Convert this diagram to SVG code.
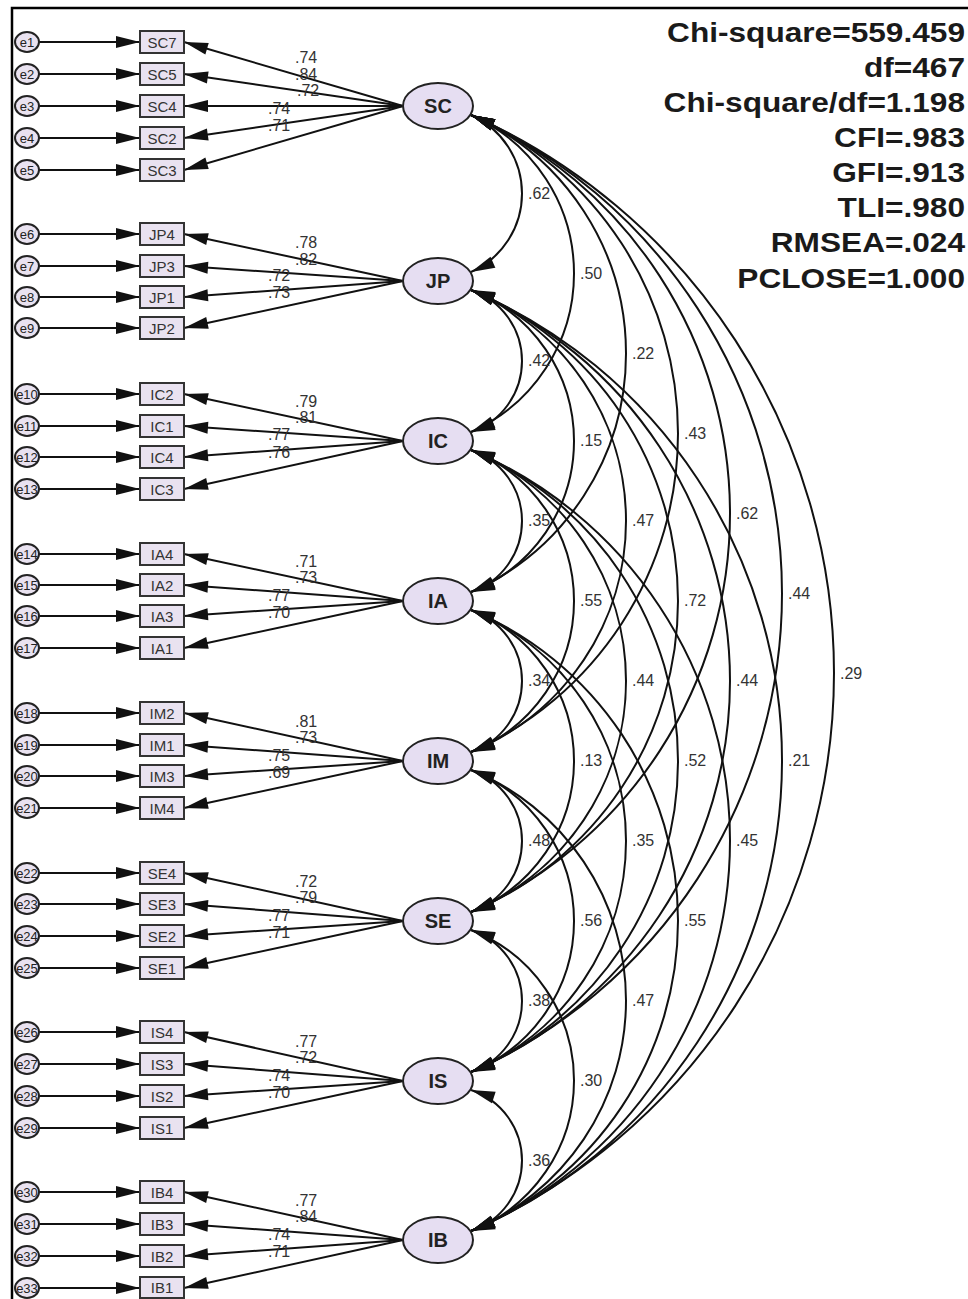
<svg xmlns="http://www.w3.org/2000/svg" width="968" height="1299" viewBox="0 0 968 1299">
<style>
.ln{stroke:#111;stroke-width:2;fill:none}
.ld{stroke:#111;stroke-width:2;fill:none;marker-end:url(#ah)}
.cv{stroke:#111;stroke-width:2;fill:none;marker-start:url(#ah2);marker-end:url(#ah2)}
.box{fill:#e9e2f0;stroke:#333;stroke-width:2}
.err{fill:#e9e2f0;stroke:#222;stroke-width:2}
.lat{fill:#e6def2;stroke:#222;stroke-width:2}
.bt{font-family:"Liberation Sans",Arial,sans-serif;font-size:15px;fill:#333;text-anchor:middle}
.et{font-family:"Liberation Sans",Arial,sans-serif;font-size:13px;fill:#222;text-anchor:middle}
.lt{font-family:"Liberation Sans",Arial,sans-serif;font-size:20px;font-weight:bold;fill:#222;text-anchor:middle}
.nt{font-family:"Liberation Sans",Arial,sans-serif;font-size:16px;fill:#333}
.st{font-family:"Liberation Sans",Arial,sans-serif;font-size:28px;font-weight:bold;fill:#1a1a1a;text-anchor:end}
</style>
<defs>
<marker id="ah" markerUnits="userSpaceOnUse" viewBox="0 0 24 12" markerWidth="24" markerHeight="12" refX="24" refY="6" orient="auto" overflow="visible"><path d="M0,0 L24,6 L0,12 z" fill="#111"/></marker>
<marker id="ah2" markerUnits="userSpaceOnUse" viewBox="0 0 24 12" markerWidth="24" markerHeight="12" refX="24" refY="6" orient="auto-start-reverse" overflow="visible"><path d="M0,0 L24,6 L0,12 z" fill="#111"/></marker>
</defs>
<rect width="968" height="1299" fill="#fff"/>
<path d="M12,1299 V8 H968" fill="none" stroke="#000" stroke-width="2.5"/>

<g id="connectors">
<path class="ld" d="M39,42 H140"/><path class="ld" d="M39,74 H140"/><path class="ld" d="M39,106 H140"/><path class="ld" d="M39,138 H140"/><path class="ld" d="M39,170 H140"/>
<path class="ld" d="M39,234 H140"/><path class="ld" d="M39,266 H140"/><path class="ld" d="M39,297 H140"/><path class="ld" d="M39,328 H140"/>
<path class="ld" d="M39,394 H140"/><path class="ld" d="M39,426 H140"/><path class="ld" d="M39,457 H140"/><path class="ld" d="M39,489 H140"/>
<path class="ld" d="M39,554 H140"/><path class="ld" d="M39,585 H140"/><path class="ld" d="M39,616 H140"/><path class="ld" d="M39,648 H140"/>
<path class="ld" d="M39,713 H140"/><path class="ld" d="M39,745 H140"/><path class="ld" d="M39,776 H140"/><path class="ld" d="M39,808 H140"/>
<path class="ld" d="M39,873 H140"/><path class="ld" d="M39,904 H140"/><path class="ld" d="M39,936 H140"/><path class="ld" d="M39,968 H140"/>
<path class="ld" d="M39,1032 H140"/><path class="ld" d="M39,1064 H140"/><path class="ld" d="M39,1096 H140"/><path class="ld" d="M39,1128 H140"/>
<path class="ld" d="M39,1192 H140"/><path class="ld" d="M39,1224 H140"/><path class="ld" d="M39,1256 H140"/><path class="ld" d="M39,1288 H140"/>
<path class="ld" d="M403,106 L184,42"/><path class="ld" d="M403,106 L184,74"/><path class="ld" d="M403,106 L184,106"/><path class="ld" d="M403,106 L184,138"/><path class="ld" d="M403,106 L184,170"/>
<path class="ld" d="M403,281 L184,234"/><path class="ld" d="M403,281 L184,266"/><path class="ld" d="M403,281 L184,297"/><path class="ld" d="M403,281 L184,328"/>
<path class="ld" d="M403,441 L184,394"/><path class="ld" d="M403,441 L184,426"/><path class="ld" d="M403,441 L184,457"/><path class="ld" d="M403,441 L184,489"/>
<path class="ld" d="M403,601 L184,554"/><path class="ld" d="M403,601 L184,585"/><path class="ld" d="M403,601 L184,616"/><path class="ld" d="M403,601 L184,648"/>
<path class="ld" d="M403,761 L184,713"/><path class="ld" d="M403,761 L184,745"/><path class="ld" d="M403,761 L184,776"/><path class="ld" d="M403,761 L184,808"/>
<path class="ld" d="M403,921 L184,873"/><path class="ld" d="M403,921 L184,904"/><path class="ld" d="M403,921 L184,936"/><path class="ld" d="M403,921 L184,968"/>
<path class="ld" d="M403,1081 L184,1032"/><path class="ld" d="M403,1081 L184,1064"/><path class="ld" d="M403,1081 L184,1096"/><path class="ld" d="M403,1081 L184,1128"/>
<path class="ld" d="M403,1240 L184,1192"/><path class="ld" d="M403,1240 L184,1224"/><path class="ld" d="M403,1240 L184,1256"/><path class="ld" d="M403,1240 L184,1288"/>
<path class="cv" d="M471,115 A85.91,85.91 0 0 1 471,272"/>
<path class="cv" d="M471,290 A74.92,74.92 0 0 1 471,432"/>
<path class="cv" d="M471,450 A74.92,74.92 0 0 1 471,592"/>
<path class="cv" d="M471,610 A74.92,74.92 0 0 1 471,752"/>
<path class="cv" d="M471,770 A74.92,74.92 0 0 1 471,912"/>
<path class="cv" d="M471,930 A74.92,74.92 0 0 1 471,1072"/>
<path class="cv" d="M471,1090 A74.23,74.23 0 0 1 471,1231"/>
<path class="cv" d="M471,115 A173.45,173.45 0 0 1 471,432"/>
<path class="cv" d="M471,290 A162.18,162.18 0 0 1 471,592"/>
<path class="cv" d="M471,450 A162.18,162.18 0 0 1 471,752"/>
<path class="cv" d="M471,610 A162.18,162.18 0 0 1 471,912"/>
<path class="cv" d="M471,770 A162.18,162.18 0 0 1 471,1072"/>
<path class="cv" d="M471,930 A161.45,161.45 0 0 1 471,1231"/>
<path class="cv" d="M471,115 A260.99,260.99 0 0 1 471,592"/>
<path class="cv" d="M471,290 A249.63,249.63 0 0 1 471,752"/>
<path class="cv" d="M471,450 A249.63,249.63 0 0 1 471,912"/>
<path class="cv" d="M471,610 A249.63,249.63 0 0 1 471,1072"/>
<path class="cv" d="M471,770 A248.89,248.89 0 0 1 471,1231"/>
<path class="cv" d="M471,115 A348.53,348.53 0 0 1 471,752"/>
<path class="cv" d="M471,290 A337.13,337.13 0 0 1 471,912"/>
<path class="cv" d="M471,450 A337.13,337.13 0 0 1 471,1072"/>
<path class="cv" d="M471,610 A336.37,336.37 0 0 1 471,1231"/>
<path class="cv" d="M471,115 A436.07,436.07 0 0 1 471,912"/>
<path class="cv" d="M471,290 A424.64,424.64 0 0 1 471,1072"/>
<path class="cv" d="M471,450 A423.88,423.88 0 0 1 471,1231"/>
<path class="cv" d="M471,115 A523.61,523.61 0 0 1 471,1072"/>
<path class="cv" d="M471,290 A511.40,511.40 0 0 1 471,1231"/>
<path class="cv" d="M471,115 A610.38,610.38 0 0 1 471,1231"/>
</g>

<g id="loading-labels" class="nt">
<text x="295" y="63">.74</text><text x="295" y="80">.84</text><text x="297" y="96">.72</text><text x="268" y="114">.74</text><text x="268" y="131">.71</text>
<text x="295" y="248">.78</text><text x="295" y="265">.82</text><text x="268" y="281">.72</text><text x="268" y="298">.73</text>
<text x="295" y="407">.79</text><text x="295" y="423">.81</text><text x="268" y="440">.77</text><text x="268" y="458">.76</text>
<text x="295" y="567">.71</text><text x="295" y="583">.73</text><text x="268" y="601">.77</text><text x="268" y="618">.70</text>
<text x="295" y="727">.81</text><text x="295" y="743">.73</text><text x="268" y="761">.75</text><text x="268" y="778">.69</text>
<text x="295" y="887">.72</text><text x="295" y="903">.79</text><text x="268" y="921">.77</text><text x="268" y="938">.71</text>
<text x="295" y="1047">.77</text><text x="295" y="1063">.72</text><text x="268" y="1081">.74</text><text x="268" y="1098">.70</text>
<text x="295" y="1206">.77</text><text x="295" y="1222">.84</text><text x="268" y="1240">.74</text><text x="268" y="1257">.71</text>
</g>

<g id="covariance-labels" class="nt">
<text x="528" y="199">.62</text><text x="528" y="366">.42</text><text x="528" y="526">.35</text><text x="528" y="686">.34</text><text x="528" y="846">.48</text><text x="528" y="1006">.38</text><text x="528" y="1166">.36</text>
<text x="580" y="279">.50</text><text x="580" y="446">.15</text><text x="580" y="606">.55</text><text x="580" y="766">.13</text><text x="580" y="926">.56</text><text x="580" y="1086">.30</text>
<text x="632" y="359">.22</text><text x="632" y="526">.47</text><text x="632" y="686">.44</text><text x="632" y="846">.35</text><text x="632" y="1006">.47</text>
<text x="684" y="439">.43</text><text x="684" y="606">.72</text><text x="684" y="766">.52</text><text x="684" y="926">.55</text>
<text x="736" y="519">.62</text><text x="736" y="686">.44</text><text x="736" y="846">.45</text>
<text x="788" y="599">.44</text><text x="788" y="766">.21</text>
<text x="840" y="679">.29</text>
</g>

<g id="SC"><ellipse class="lat" cx="438" cy="106" rx="35" ry="23"/><text class="lt" x="438" y="113">SC</text></g>
<g id="JP"><ellipse class="lat" cx="438" cy="281" rx="35" ry="23"/><text class="lt" x="438" y="288">JP</text></g>
<g id="IC"><ellipse class="lat" cx="438" cy="441" rx="35" ry="23"/><text class="lt" x="438" y="448">IC</text></g>
<g id="IA"><ellipse class="lat" cx="438" cy="601" rx="35" ry="23"/><text class="lt" x="438" y="608">IA</text></g>
<g id="IM"><ellipse class="lat" cx="438" cy="761" rx="35" ry="23"/><text class="lt" x="438" y="768">IM</text></g>
<g id="SE"><ellipse class="lat" cx="438" cy="921" rx="35" ry="23"/><text class="lt" x="438" y="928">SE</text></g>
<g id="IS"><ellipse class="lat" cx="438" cy="1081" rx="35" ry="23"/><text class="lt" x="438" y="1088">IS</text></g>
<g id="IB"><ellipse class="lat" cx="438" cy="1240" rx="35" ry="23"/><text class="lt" x="438" y="1247">IB</text></g>

<g id="SC7"><rect class="box" x="140" y="31" width="44" height="22"/><text class="bt" x="162" y="47.5">SC7</text></g>
<g id="SC5"><rect class="box" x="140" y="63" width="44" height="22"/><text class="bt" x="162" y="79.5">SC5</text></g>
<g id="SC4"><rect class="box" x="140" y="95" width="44" height="22"/><text class="bt" x="162" y="111.5">SC4</text></g>
<g id="SC2"><rect class="box" x="140" y="127" width="44" height="22"/><text class="bt" x="162" y="143.5">SC2</text></g>
<g id="SC3"><rect class="box" x="140" y="159" width="44" height="22"/><text class="bt" x="162" y="175.5">SC3</text></g>
<g id="JP4"><rect class="box" x="140" y="223" width="44" height="22"/><text class="bt" x="162" y="239.5">JP4</text></g>
<g id="JP3"><rect class="box" x="140" y="255" width="44" height="22"/><text class="bt" x="162" y="271.5">JP3</text></g>
<g id="JP1"><rect class="box" x="140" y="286" width="44" height="22"/><text class="bt" x="162" y="302.5">JP1</text></g>
<g id="JP2"><rect class="box" x="140" y="317" width="44" height="22"/><text class="bt" x="162" y="333.5">JP2</text></g>
<g id="IC2"><rect class="box" x="140" y="383" width="44" height="22"/><text class="bt" x="162" y="399.5">IC2</text></g>
<g id="IC1"><rect class="box" x="140" y="415" width="44" height="22"/><text class="bt" x="162" y="431.5">IC1</text></g>
<g id="IC4"><rect class="box" x="140" y="446" width="44" height="22"/><text class="bt" x="162" y="462.5">IC4</text></g>
<g id="IC3"><rect class="box" x="140" y="478" width="44" height="22"/><text class="bt" x="162" y="494.5">IC3</text></g>
<g id="IA4"><rect class="box" x="140" y="543" width="44" height="22"/><text class="bt" x="162" y="559.5">IA4</text></g>
<g id="IA2"><rect class="box" x="140" y="574" width="44" height="22"/><text class="bt" x="162" y="590.5">IA2</text></g>
<g id="IA3"><rect class="box" x="140" y="605" width="44" height="22"/><text class="bt" x="162" y="621.5">IA3</text></g>
<g id="IA1"><rect class="box" x="140" y="637" width="44" height="22"/><text class="bt" x="162" y="653.5">IA1</text></g>
<g id="IM2"><rect class="box" x="140" y="702" width="44" height="22"/><text class="bt" x="162" y="718.5">IM2</text></g>
<g id="IM1"><rect class="box" x="140" y="734" width="44" height="22"/><text class="bt" x="162" y="750.5">IM1</text></g>
<g id="IM3"><rect class="box" x="140" y="765" width="44" height="22"/><text class="bt" x="162" y="781.5">IM3</text></g>
<g id="IM4"><rect class="box" x="140" y="797" width="44" height="22"/><text class="bt" x="162" y="813.5">IM4</text></g>
<g id="SE4"><rect class="box" x="140" y="862" width="44" height="22"/><text class="bt" x="162" y="878.5">SE4</text></g>
<g id="SE3"><rect class="box" x="140" y="893" width="44" height="22"/><text class="bt" x="162" y="909.5">SE3</text></g>
<g id="SE2"><rect class="box" x="140" y="925" width="44" height="22"/><text class="bt" x="162" y="941.5">SE2</text></g>
<g id="SE1"><rect class="box" x="140" y="957" width="44" height="22"/><text class="bt" x="162" y="973.5">SE1</text></g>
<g id="IS4"><rect class="box" x="140" y="1021" width="44" height="22"/><text class="bt" x="162" y="1037.5">IS4</text></g>
<g id="IS3"><rect class="box" x="140" y="1053" width="44" height="22"/><text class="bt" x="162" y="1069.5">IS3</text></g>
<g id="IS2"><rect class="box" x="140" y="1085" width="44" height="22"/><text class="bt" x="162" y="1101.5">IS2</text></g>
<g id="IS1"><rect class="box" x="140" y="1117" width="44" height="22"/><text class="bt" x="162" y="1133.5">IS1</text></g>
<g id="IB4"><rect class="box" x="140" y="1181" width="44" height="22"/><text class="bt" x="162" y="1197.5">IB4</text></g>
<g id="IB3"><rect class="box" x="140" y="1213" width="44" height="22"/><text class="bt" x="162" y="1229.5">IB3</text></g>
<g id="IB2"><rect class="box" x="140" y="1245" width="44" height="22"/><text class="bt" x="162" y="1261.5">IB2</text></g>
<g id="IB1"><rect class="box" x="140" y="1277" width="44" height="21"/><text class="bt" x="162" y="1293">IB1</text></g>

<g id="e1"><ellipse class="err" cx="27" cy="42" rx="12" ry="10"/><text class="et" x="27" y="46.5">e1</text></g>
<g id="e2"><ellipse class="err" cx="27" cy="74" rx="12" ry="10"/><text class="et" x="27" y="78.5">e2</text></g>
<g id="e3"><ellipse class="err" cx="27" cy="106" rx="12" ry="10"/><text class="et" x="27" y="110.5">e3</text></g>
<g id="e4"><ellipse class="err" cx="27" cy="138" rx="12" ry="10"/><text class="et" x="27" y="142.5">e4</text></g>
<g id="e5"><ellipse class="err" cx="27" cy="170" rx="12" ry="10"/><text class="et" x="27" y="174.5">e5</text></g>
<g id="e6"><ellipse class="err" cx="27" cy="234" rx="12" ry="10"/><text class="et" x="27" y="238.5">e6</text></g>
<g id="e7"><ellipse class="err" cx="27" cy="266" rx="12" ry="10"/><text class="et" x="27" y="270.5">e7</text></g>
<g id="e8"><ellipse class="err" cx="27" cy="297" rx="12" ry="10"/><text class="et" x="27" y="301.5">e8</text></g>
<g id="e9"><ellipse class="err" cx="27" cy="328" rx="12" ry="10"/><text class="et" x="27" y="332.5">e9</text></g>
<g id="e10"><ellipse class="err" cx="27" cy="394" rx="12" ry="10"/><text class="et" x="27" y="398.5">e10</text></g>
<g id="e11"><ellipse class="err" cx="27" cy="426" rx="12" ry="10"/><text class="et" x="27" y="430.5">e11</text></g>
<g id="e12"><ellipse class="err" cx="27" cy="457" rx="12" ry="10"/><text class="et" x="27" y="461.5">e12</text></g>
<g id="e13"><ellipse class="err" cx="27" cy="489" rx="12" ry="10"/><text class="et" x="27" y="493.5">e13</text></g>
<g id="e14"><ellipse class="err" cx="27" cy="554" rx="12" ry="10"/><text class="et" x="27" y="558.5">e14</text></g>
<g id="e15"><ellipse class="err" cx="27" cy="585" rx="12" ry="10"/><text class="et" x="27" y="589.5">e15</text></g>
<g id="e16"><ellipse class="err" cx="27" cy="616" rx="12" ry="10"/><text class="et" x="27" y="620.5">e16</text></g>
<g id="e17"><ellipse class="err" cx="27" cy="648" rx="12" ry="10"/><text class="et" x="27" y="652.5">e17</text></g>
<g id="e18"><ellipse class="err" cx="27" cy="713" rx="12" ry="10"/><text class="et" x="27" y="717.5">e18</text></g>
<g id="e19"><ellipse class="err" cx="27" cy="745" rx="12" ry="10"/><text class="et" x="27" y="749.5">e19</text></g>
<g id="e20"><ellipse class="err" cx="27" cy="776" rx="12" ry="10"/><text class="et" x="27" y="780.5">e20</text></g>
<g id="e21"><ellipse class="err" cx="27" cy="808" rx="12" ry="10"/><text class="et" x="27" y="812.5">e21</text></g>
<g id="e22"><ellipse class="err" cx="27" cy="873" rx="12" ry="10"/><text class="et" x="27" y="877.5">e22</text></g>
<g id="e23"><ellipse class="err" cx="27" cy="904" rx="12" ry="10"/><text class="et" x="27" y="908.5">e23</text></g>
<g id="e24"><ellipse class="err" cx="27" cy="936" rx="12" ry="10"/><text class="et" x="27" y="940.5">e24</text></g>
<g id="e25"><ellipse class="err" cx="27" cy="968" rx="12" ry="10"/><text class="et" x="27" y="972.5">e25</text></g>
<g id="e26"><ellipse class="err" cx="27" cy="1032" rx="12" ry="10"/><text class="et" x="27" y="1036.5">e26</text></g>
<g id="e27"><ellipse class="err" cx="27" cy="1064" rx="12" ry="10"/><text class="et" x="27" y="1068.5">e27</text></g>
<g id="e28"><ellipse class="err" cx="27" cy="1096" rx="12" ry="10"/><text class="et" x="27" y="1100.5">e28</text></g>
<g id="e29"><ellipse class="err" cx="27" cy="1128" rx="12" ry="10"/><text class="et" x="27" y="1132.5">e29</text></g>
<g id="e30"><ellipse class="err" cx="27" cy="1192" rx="12" ry="10"/><text class="et" x="27" y="1196.5">e30</text></g>
<g id="e31"><ellipse class="err" cx="27" cy="1224" rx="12" ry="10"/><text class="et" x="27" y="1228.5">e31</text></g>
<g id="e32"><ellipse class="err" cx="27" cy="1256" rx="12" ry="10"/><text class="et" x="27" y="1260.5">e32</text></g>
<g id="e33"><ellipse class="err" cx="27" cy="1288" rx="12" ry="10"/><text class="et" x="27" y="1292.5">e33</text></g>

<g id="fit-statistics" transform="translate(965 0) scale(1.13 1)">
<text class="st" x="0" y="42">Chi-square=559.459</text>
<text class="st" x="0" y="77">df=467</text>
<text class="st" x="0" y="112">Chi-square/df=1.198</text>
<text class="st" x="0" y="147">CFI=.983</text>
<text class="st" x="0" y="182">GFI=.913</text>
<text class="st" x="0" y="217">TLI=.980</text>
<text class="st" x="0" y="252">RMSEA=.024</text>
<text class="st" x="0" y="288">PCLOSE=1.000</text>
</g>
</svg>
